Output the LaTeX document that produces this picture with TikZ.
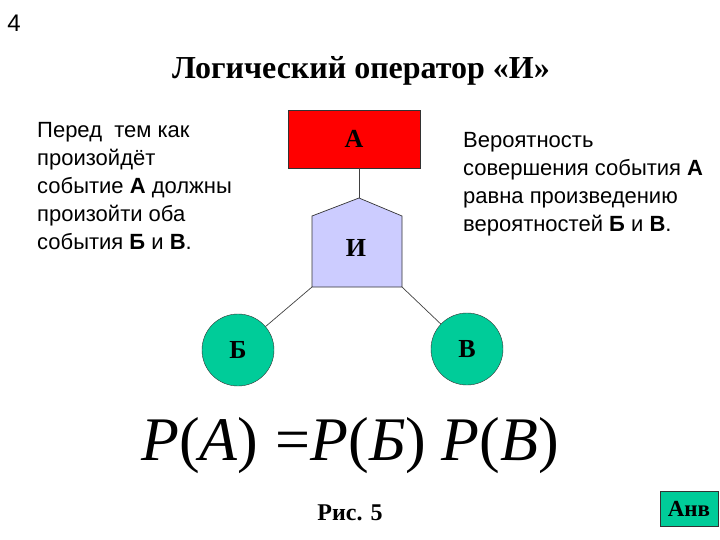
\documentclass[tikz,border=0pt]{standalone}
\usepackage{fontspec}
\setmainfont{Liberation Serif}
\setsansfont{Liberation Sans}
\usepackage{tikz}
\usetikzlibrary{positioning}
\definecolor{gateblue}{HTML}{CCCCFF}
\definecolor{eventgreen}{HTML}{00CC99}

\begin{document}
\begin{tikzpicture}[x=1pt,y=1pt,
  event/.style={circle,draw=black!80,fill=eventgreen,minimum size=72pt,inner sep=0pt,font=\fontsize{26}{28}\selectfont\bfseries},
  note/.style={anchor=north west,align=left,inner sep=0pt,font=\sffamily\fontsize{22}{28}\selectfont},
  link/.style={draw=black!75,line width=0.7pt}]
\useasboundingbox (0,0) rectangle (720,-540);
\node[font=\sffamily\fontsize{24}{26}\selectfont] (num) at (14,-23) {4};
\node[font=\bfseries\fontsize{32}{34}\selectfont] (title) at (361,-71) {Логический оператор «И»};
\node[note] (left) at (37,-122) {Перед \ тем как\\произойдёт\\событие \textbf{А} должны\\произойти оба\\события \textbf{Б} и \textbf{В}.};
\node[note] (right) at (463,-132) {Вероятность\\совершения события \textbf{А}\\равна произведению\\вероятностей \textbf{Б} и \textbf{В}.};
% top event
\node[draw=black!80,fill=red,minimum width=132pt,minimum height=58pt,inner sep=0pt,
  font=\fontsize{26}{28}\selectfont\bfseries] (A) at (354,-139) {А};
% AND gate
\coordinate (apex) at (359,-198);
\coordinate (gl) at (312,-287);
\coordinate (gr) at (402,-287);
\draw[draw=black!80,fill=gateblue,line width=0.7pt] (apex) -- (402,-216) -- (gr) -- (gl) -- (312,-216) -- cycle;
\node[font=\fontsize{26}{28}\selectfont\bfseries] (and) at (356,-248) {И};
% basic events
\node[event] (B) at (238,-350) {Б};
\node[event] (V) at (467,-349) {В};
\draw[link] (A.south -| apex) -- (apex);
\draw[link] (gl) -- (B);
\draw[link] (gr) -- (V);
% formula
\node[font=\fontsize{62}{64}\selectfont] (eq) at (350,-446) {\textit{P}(\textit{А})\;=\textit{P}(\textit{Б})\ \textit{P}(\textit{В})};
\node[font=\bfseries\fontsize{24}{26}\selectfont] (fig) at (350,-513) {Рис. 5};
\node[draw=black!80,fill=eventgreen,minimum width=58pt,minimum height=35pt,inner sep=0pt,
  font=\bfseries\fontsize{23}{25}\selectfont] (anv) at (689,-509) {Анв};
\end{tikzpicture}
\end{document}
